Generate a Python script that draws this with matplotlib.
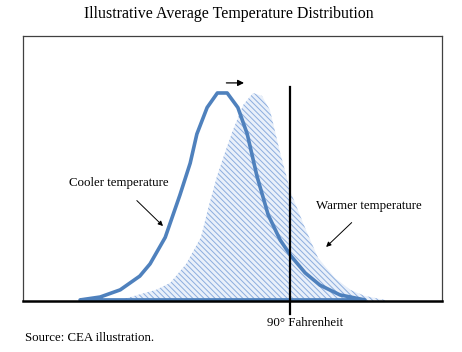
import matplotlib
matplotlib.use('Agg')
from matplotlib import pyplot as plt

plt.rcParams['font.family'] = ['Liberation Serif', 'DejaVu Serif']
plt.rcParams['hatch.linewidth'] = 0.7

# cooler (current) distribution: temperature (F) vs relative frequency
cool_x = [42.8, 47.3, 51.8, 56.2, 58.5, 61.9, 65.2, 67.5, 69.0, 71.3, 73.6, 75.8,
          78.2, 80.3, 82.5, 85.0, 87.7, 90.1, 93.3, 96.6, 101.1, 106.7]
cool_y = [0.4, 1.5, 4.2, 9.4, 14.0, 24.0, 40.0, 52.0, 63.0, 73.0, 78.5, 78.5,
          73.0, 63.0, 47.0, 32.5, 23.0, 17.0, 10.6, 6.0, 2.3, 0.4]

# warmer (shifted) distribution
warm_x = [51.8, 59.8, 63.0, 66.6, 69.9, 71.7, 73.5, 75.3, 77.1, 79.4, 81.6, 83.6,
          85.4, 87.7, 90.1, 93.3, 96.2, 100.0, 103.4, 106.7, 111.2]
warm_y = [0.4, 4.2, 6.8, 14.0, 24.0, 36.0, 47.0, 56.0, 64.5, 74.0, 78.5, 77.4,
          72.0, 55.8, 40.8, 27.5, 16.2, 8.7, 4.2, 1.9, 0.4]

threshold = 90

blue = '#4f81bd'

fig = plt.figure(figsize=(4.62, 3.52), dpi=100)
ax = fig.add_axes([0.0498, 0.1449, 0.907, 0.7528])

# shaded warmer distribution (dotted blue texture)
ax.fill_between(warm_x, 0, warm_y, facecolor='#e9f0fa', edgecolor='#8cadde',
                hatch='\\\\\\\\\\\\', linewidth=0)

# cooler distribution outline (closed along the base)
ax.fill(cool_x, cool_y, facecolor='none', edgecolor=blue, linewidth=2.6,
        joinstyle='round')

# 90 degree threshold line
ax.axvline(threshold, ymin=-0.05, ymax=0.808, color='black', linewidth=1.6,
           clip_on=False)

ax.set_xlim(30, 124)
ax.set_ylim(0, 100)
ax.set_xticks([])
ax.set_yticks([])
for side in ['top', 'left', 'right']:
    ax.spines[side].set_color('#404040')
    ax.spines[side].set_linewidth(0.9)
ax.spines['bottom'].set_color('black')
ax.spines['bottom'].set_linewidth(1.8)

# shift arrow
ax.annotate('', xy=(80.2, 82.3), xytext=(75.0, 82.3),
            arrowprops=dict(arrowstyle='-|>', color='black', lw=0.9,
                            mutation_scale=9))

ax.annotate('Cooler temperature', xy=(61.4, 28.3), xytext=(51.5, 44.5),
            ha='center', va='center', fontsize=9.3,
            arrowprops=dict(arrowstyle='-|>', color='black', lw=0.7,
                            mutation_scale=7, shrinkA=9, shrinkB=0))
ax.annotate('Warmer temperature', xy=(98.0, 20.4), xytext=(107.6, 35.8),
            ha='center', va='center', fontsize=9.3,
            arrowprops=dict(arrowstyle='-|>', color='black', lw=0.7,
                            mutation_scale=7, shrinkA=8, shrinkB=0))

ax.text(93.3, -0.083, '90° Fahrenheit', transform=ax.get_xaxis_transform(),
        ha='center', va='center', fontsize=9.3)

fig.text(0.4946, 0.96, 'Illustrative Average Temperature Distribution',
         ha='center', va='center', fontsize=11.4)
fig.text(25 / 462, 1 - 338 / 352, 'Source: CEA illustration.',
         ha='left', va='center', fontsize=9.3)

plt.savefig('out.png', dpi=100)
